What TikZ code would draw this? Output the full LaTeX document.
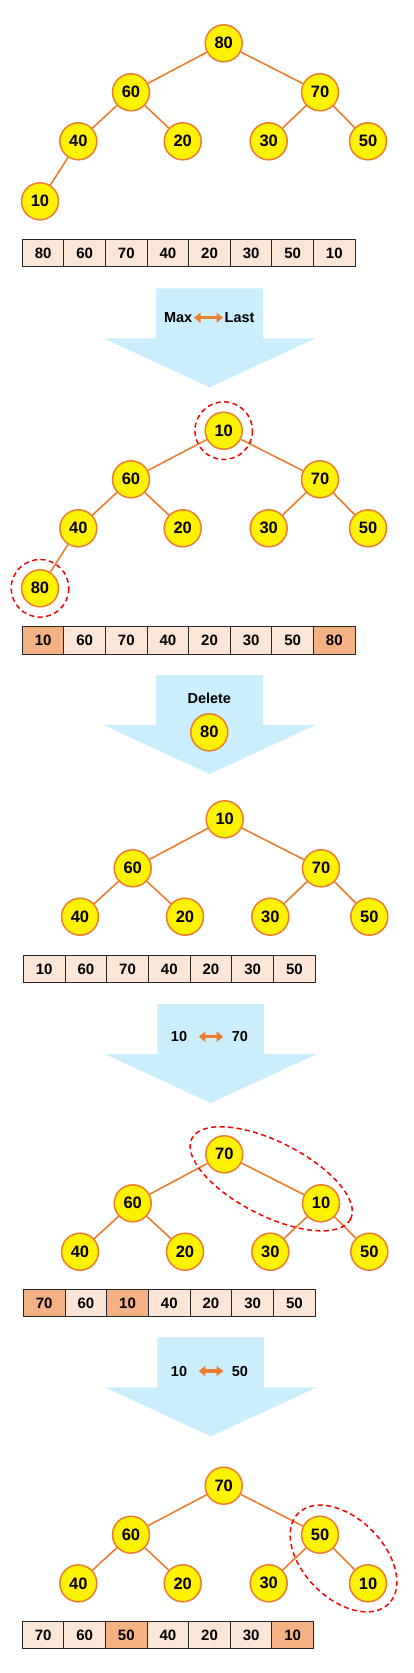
\documentclass[tikz,border=0pt]{standalone}
\usepackage{fontspec}
\setmainfont{Liberation Sans}
\usetikzlibrary{
    positioning,
    arrows.meta
}

\definecolor{haugoransje}{HTML}{ED7D31}
\definecolor{haugblaa}{HTML}{CAEEFB}
\definecolor{cellelys}{HTML}{FBE5D6}
\definecolor{cellemork}{HTML}{F4B183}

\tikzset{
    knute/.style={circle, draw=haugoransje, fill=yellow, line width=1.5pt,
        minimum size=37pt, inner sep=0pt, font=\fontsize{16.5}{19}\selectfont\bfseries},
    kant/.style={draw=haugoransje, line width=1.6pt},
    ring/.style={draw=red, line width=1.5pt, dash pattern=on 5pt off 3.5pt},
    celle/.style={draw=black!85, line width=0.9pt, fill=cellelys,
        minimum width=41.6pt, minimum height=27.3pt, inner sep=0pt,
        text height=10.5pt, text depth=0pt, font=\fontsize{15}{17}\selectfont\bfseries},
    merket/.style={celle, fill=cellemork},
    tekst/.style={inner sep=1.5pt, text height=10.5pt, text depth=0pt,
        font=\fontsize{14.5}{17}\selectfont\bfseries},
    bytt/.style={{Triangle[width=10pt,length=6.5pt]}-{Triangle[width=10pt,length=6.5pt]},
        draw=haugoransje, line width=3.2pt}
}

% Stor pil nedover: #1 = midt, #2 = topp
\newcommand{\stortpil}[2]{%
    \fill[haugblaa] ({#1-53.4},#2) -- ({#1+53.4},#2) -- ({#1+53.4},{#2+50})
        -- ({#1+106},{#2+50}) -- (#1,{#2+99}) -- ({#1-106},{#2+50})
        -- ({#1-53.4},{#2+50}) -- cycle;}

\begin{document}
\begin{tikzpicture}[x=1pt, y=-1pt]
        \path[fill=white] (0,0) rectangle (413,1673);

        % Steg 1: maks-haug
        \node[knute] (h1r) at (223.7,43.3) {80};
        \node[knute] (h1a) at (131,92.3) {60};
        \node[knute] (h1b) at (320,92.3) {70};
        \node[knute] (h1aa) at (78.3,141.3) {40};
        \node[knute] (h1ab) at (182.7,141.3) {20};
        \node[knute] (h1ba) at (268.7,141.3) {30};
        \node[knute] (h1bb) at (368,141.3) {50};
        \node[knute] (h1aaa) at (40,201.3) {10};
        \foreach \p/\c in {r/a, r/b, a/aa, a/ab, b/ba, b/bb, aa/aaa}
            \draw[kant] (h1\p) -- (h1\c);
        \foreach \v/\s [count=\i] in {80/celle, 60/celle, 70/celle, 40/celle, 20/celle, 30/celle, 50/celle, 10/celle}
            \node[\s] (t1\i) at ({22.3+41.6*(\i-0.5)},253) {\v};

        % Bytt maks og siste
        \stortpil{209.6}{288.3}
        \node[tekst, anchor=east] (max) at (194,317.7) {Max};
        \node[tekst, anchor=west] (last) at (223,317.7) {Last};
        \draw[bytt] (max) -- (last);

        % Steg 2: etter bytte
        \node[knute] (h2r) at (223.7,430.7) {10};
        \node[knute] (h2a) at (131,479.3) {60};
        \node[knute] (h2b) at (320,479.3) {70};
        \node[knute] (h2aa) at (78.3,528.3) {40};
        \node[knute] (h2ab) at (182.7,528.3) {20};
        \node[knute] (h2ba) at (268.7,528.3) {30};
        \node[knute] (h2bb) at (368,528.3) {50};
        \node[knute] (h2aaa) at (40,588.3) {80};
        \foreach \p/\c in {r/a, r/b, a/aa, a/ab, b/ba, b/bb, aa/aaa}
            \draw[kant] (h2\p) -- (h2\c);
        \draw[ring] (h2r.center) circle (28.8);
        \draw[ring] (h2aaa.center) circle (28.8);
        \foreach \v/\s [count=\i] in {10/merket, 60/celle, 70/celle, 40/celle, 20/celle, 30/celle, 50/celle, 80/merket}
            \node[\s] (t2\i) at ({22.3+41.6*(\i-0.5)},640.3) {\v};

        % Slett siste
        \stortpil{209.6}{675}
        \node[tekst] (slett) at (209.3,698.7) {Delete};
        \node[knute] (ut80) at (209.3,732.3) {80};

        % Steg 3: etter sletting
        \node[knute] (h3r) at (224.7,819.3) {10};
        \node[knute] (h3a) at (132.7,868.3) {60};
        \node[knute] (h3b) at (321,868.3) {70};
        \node[knute] (h3aa) at (80,916.7) {40};
        \node[knute] (h3ab) at (185,916.7) {20};
        \node[knute] (h3ba) at (270.3,916.7) {30};
        \node[knute] (h3bb) at (369.3,916.7) {50};
        \foreach \p/\c in {r/a, r/b, a/aa, a/ab, b/ba, b/bb}
            \draw[kant] (h3\p) -- (h3\c);
        \foreach \v/\s [count=\i] in {10/celle, 60/celle, 70/celle, 40/celle, 20/celle, 30/celle, 50/celle}
            \node[\s] (t3\i) at ({23.3+41.7*(\i-0.5)},969.2) {\v};

        % Bytt 10 og 70
        \stortpil{210.8}{1004}
        \node[tekst, anchor=east] (fra3) at (188.8,1036.7) {10};
        \node[tekst, anchor=west] (til3) at (230.2,1036.7) {70};
        \draw[bytt, shorten <=10pt, shorten >=7pt] (fra3) -- (til3);

        % Steg 4
        \node[knute] (h4r) at (224.3,1154.3) {70};
        \node[knute] (h4a) at (132.7,1203.3) {60};
        \node[knute] (h4b) at (321,1203.3) {10};
        \node[knute] (h4aa) at (80,1251.7) {40};
        \node[knute] (h4ab) at (185,1251.7) {20};
        \node[knute] (h4ba) at (270.3,1251.7) {30};
        \node[knute] (h4bb) at (369.3,1251.7) {50};
        \foreach \p/\c in {r/a, r/b, a/aa, a/ab, b/ba, b/bb}
            \draw[kant] (h4\p) -- (h4\c);
        \draw[ring] (271.2,1178.8) ellipse [x radius=89, y radius=37, rotate=-26.9];
        \foreach \v/\s [count=\i] in {70/merket, 60/celle, 10/merket, 40/celle, 20/celle, 30/celle, 50/celle}
            \node[\s] (t4\i) at ({23.3+41.7*(\i-0.5)},1303) {\v};

        % Bytt 10 og 50
        \stortpil{210.8}{1337.3}
        \node[tekst, anchor=east] (fra4) at (188.8,1371) {10};
        \node[tekst, anchor=west] (til4) at (230.2,1371) {50};
        \draw[bytt, shorten <=10pt, shorten >=7pt] (fra4) -- (til4);

        % Steg 5: ferdig haug
        \node[knute] (h5r) at (223.7,1485.7) {70};
        \node[knute] (h5a) at (131,1534.7) {60};
        \node[knute] (h5b) at (320,1534.7) {50};
        \node[knute] (h5aa) at (78.3,1583.3) {40};
        \node[knute] (h5ab) at (182.7,1583.3) {20};
        \node[knute] (h5ba) at (268.7,1583.3) {30};
        \node[knute] (h5bb) at (368,1583.3) {10};
        \foreach \p/\c in {r/a, r/b, a/aa, a/ab, b/ba, b/bb}
            \draw[kant] (h5\p) -- (h5\c);
        \draw[ring] (343.5,1558.5) ellipse [x radius=64, y radius=40, rotate=-45];
        \foreach \v/\s [count=\i] in {70/celle, 60/celle, 50/merket, 40/celle, 20/celle, 30/celle, 10/merket}
            \node[\s] (t5\i) at ({22.3+41.6*(\i-0.5)},1635.2) {\v};
    \end{tikzpicture}
\end{document}
